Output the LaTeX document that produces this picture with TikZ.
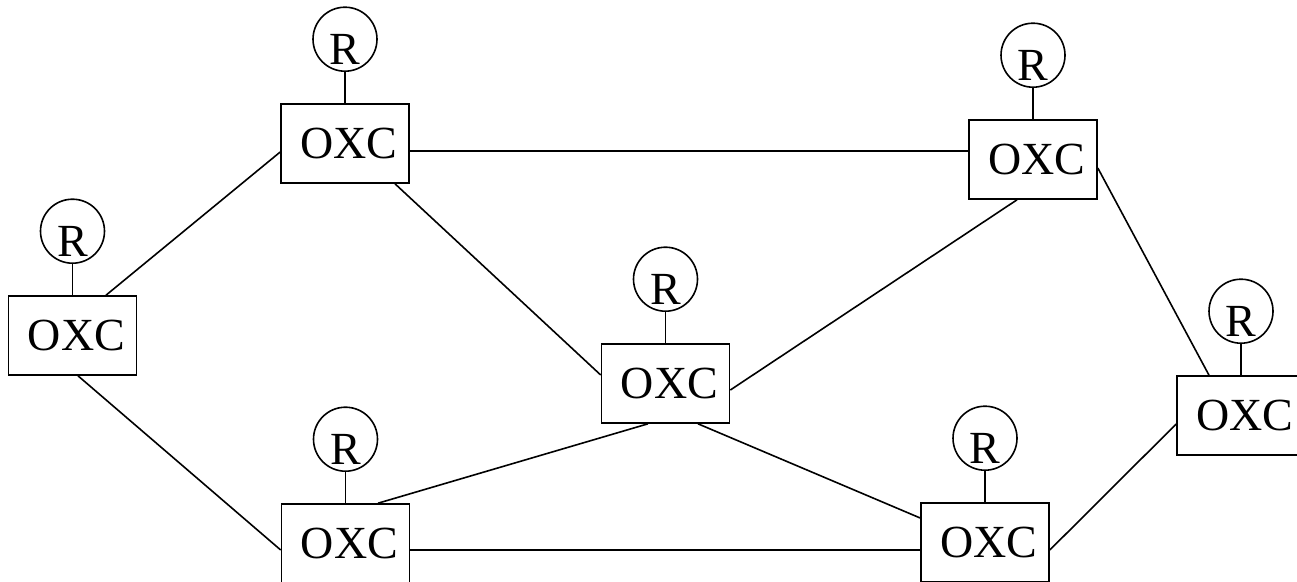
\documentclass[tikz,border=0pt]{standalone}
\usepackage{fontspec}
\setmainfont{Liberation Serif}
\begin{document}
\begin{tikzpicture}[x=1pt,y=-1pt,
  line width=1.6pt,
  font=\fontsize{46}{50}\selectfont,
  oxc/.style={draw,rectangle,minimum width=128pt,minimum height=79pt,inner sep=0pt,
    execute at begin node=\hspace*{8pt}},
  router/.style={draw,circle,minimum size=64pt,inner sep=0pt,
    label={[yshift=-10pt]center:R}},
  link/.style={draw}]
\useasboundingbox (0,0) rectangle (1297,581);

% cross-connects
\node[oxc] (b1) at (345,143.5) {OXC};
\node[oxc] (b2) at (1033,159.5) {OXC};
\node[oxc] (b3) at (72.5,335.5) {OXC};
\node[oxc] (b4) at (665.5,383.5) {OXC};
\node[oxc] (b5) at (1241,415.5) {OXC};
\node[oxc] (b6) at (345.5,543.5) {OXC};
\node[oxc] (b7) at (985,542.5) {OXC};

% routers attached on top of each cross-connect
\foreach \b in {b1,b2,b3,b4,b5,b6,b7}{
  \node[router] (r\b) at ([yshift=64pt]\b.north) {};
  \draw (r\b.south) -- (\b.north);
}

% fibre links
\draw[link] ([yshift=-8.5pt]b1.west) -- ([xshift=33.5pt]b3.north);
\draw[link] ([yshift=-7.5pt]b1.east) -- ([yshift=8.5pt]b2.west);
\draw[link] ([xshift=50pt]b1.south) -- ([yshift=8.5pt]b4.west);
\draw[link] ([xshift=-16pt]b2.south) -- ([yshift=-6.5pt]b4.east);
\draw[link] ([yshift=-8.5pt]b2.east) -- ([xshift=-32pt]b5.north);
\draw[link] ([xshift=5.5pt]b3.south) -- ([yshift=-6.5pt]b6.west);
\draw[link] ([xshift=-17.5pt]b4.south) -- ([xshift=32.5pt]b6.north);
\draw[link] ([xshift=32.5pt]b4.south) -- ([yshift=24.5pt]b7.west);
\draw[link] ([yshift=-6.5pt]b6.east) -- ([yshift=-7.5pt]b7.west);
\draw[link] ([yshift=-7.5pt]b7.east) -- ([yshift=-8.5pt]b5.west);
\end{tikzpicture}
\end{document}
